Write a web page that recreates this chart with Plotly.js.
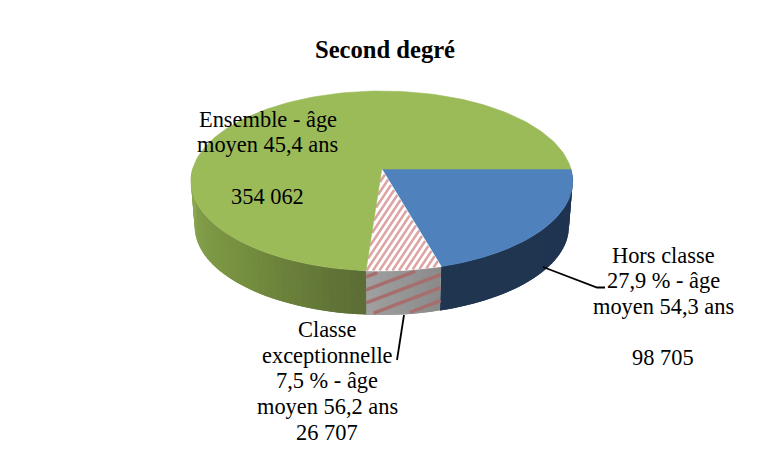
<!DOCTYPE html>
<html><head><meta charset="utf-8">
<script src="https://cdn.plot.ly/plotly-3.0.1.min.js"></script>
<style>html,body{margin:0;padding:0;background:#fff}#c{width:776px;height:450px}</style></head>
<body><div id="c"></div>
<script>
var categories = ["Hors classe", "Classe exceptionnelle", "Ensemble"];
var values = [98705, 26707, 354062];
var topColors = ["#4F81BD", "#FFFFFF", "#9BBB59"];
var wallStops = [
  [[0, "#1E3450"], [1, "#1F3550"]],
  [[0, "#8A8A8A"], [1, "#A0A0A0"]],
  [[0, "#5B6C35"], [0.45, "#76903F"], [1, "#8EAA52"]]
];
var titleText = "Second degré";
var labelLines = [
  ["Hors classe", "27,9 % - âge", "moyen 54,3 ans", "", "98 705"],
  ["Classe", "exceptionnelle", "7,5 % - âge", "moyen 56,2 ans", "26 707"],
  ["Ensemble - âge", "moyen 45,4 ans", "", "354 062"]
];

var P = {cx: 381.8, cy: 169, a: 189.2, b: 88.4, k: 0.1333, cyLow: 215, sLow: 0.98};
function proj(tDeg, low) {
  var t = tDeg * Math.PI / 180, u = Math.cos(t), v = Math.sin(t), d = 1 - P.k * v;
  var s = low ? P.sLow : 1, c = low ? P.cyLow : P.cy;
  return [P.cx + s * P.a * u / d, c + s * P.b * v / d];
}
function hex(h){return [1,3,5].map(function(i){return parseInt(h.substr(i,2),16);});}
function shade(stops, f) {
  for (var i = 1; i < stops.length; i++) if (f <= stops[i][0]) {
    var g = (f - stops[i-1][0]) / (stops[i][0] - stops[i-1][0]);
    var A = hex(stops[i-1][1]), B = hex(stops[i][1]);
    return "rgb(" + A.map(function(x,j){return Math.round(x + (B[j]-x)*g);}).join(",") + ")";
  }
  return stops[stops.length-1][1];
}
var total = values.reduce(function(a,b){return a+b;},0);
var bounds = [0];
values.forEach(function(v){bounds.push(bounds[bounds.length-1] + v/total*360);});

var traces = [];
function poly(xs, ys, color, width) {
  traces.push({x: xs, y: ys, mode: "lines", fill: "toself", fillcolor: color,
    line: {color: color, width: width || 0}, hoverinfo: "skip", showlegend: false, type: "scatter"});
}
function stroke(xs, ys, color, width) {
  traces.push({x: xs, y: ys, mode: "lines", line: {color: color, width: width}, hoverinfo: "skip", showlegend: false, type: "scatter"});
}
// side wall, front half only; each band overlaps the next to avoid seams
bounds.slice(0,3).forEach(function(b0, i) {
  var from = Math.max(b0, 0), to = Math.min(bounds[i+1], 180), n = Math.max(2, Math.ceil((to-from)/2));
  if (to <= from) return;
  for (var j = 0; j < n; j++) {
    var t0 = from + (to-from)*j/n, t1 = from + (to-from)*(j+1)/n;
    if (j < n-1) t1 += (to-from)/n;
    var xs = [], ys = [], m = 4, q, p;
    for (q = 0; q <= m; q++) { p = proj(t0 + (t1-t0)*q/m, false); xs.push(p[0]); ys.push(p[1]); }
    for (q = m; q >= 0; q--) { p = proj(t0 + (t1-t0)*q/m, true); xs.push(p[0]); ys.push(p[1]); }
    xs.push(xs[0]); ys.push(ys[0]);
    poly(xs, ys, shade(wallStops[i], (j+0.5)/n));
  }
});
// stripes on the hatched wall
(function(){
  var from = bounds[1], to = bounds[2], slope = 0.38, step = 13;
  var x0 = proj(to,false)[0];
  for (var q = -2; q <= 3; q++) {
    var xs = [], ys = [];
    for (var j = 0; j <= 60; j++) {
      var t = from + (to-from)*j/60, top = proj(t,false), low = proj(t,true);
      var x = (top[0] + low[0]) / 2;
      var y = 303 + q*step - (x - x0)*slope;
      if (y >= top[1] + 1.5 && y <= low[1] - 1.5) { xs.push(x); ys.push(y); }
    }
    if (xs.length > 1) stroke(xs, ys, "#A76E6E", 3.4);
  }
})();
function inside(x, y, xs, ys) {
  var c = false;
  for (var i = 0, j = xs.length-1; i < xs.length; j = i++) {
    if ((ys[i] > y) !== (ys[j] > y) && x < (xs[j]-xs[i])*(y-ys[i])/(ys[j]-ys[i]) + xs[i]) c = !c;
  }
  return c;
}
// top faces
values.forEach(function(v, i) {
  var xs = [P.cx], ys = [P.cy], n = Math.ceil((bounds[i+1]-bounds[i])/1.5);
  for (var j = 0; j <= n; j++) {
    var p = proj(bounds[i] + (bounds[i+1]-bounds[i])*j/n, false);
    xs.push(p[0]); ys.push(p[1]);
  }
  xs.push(P.cx); ys.push(P.cy);
  poly(xs, ys, topColors[i], 0.6);
  if (i === 1) {
    var period = 6.5, steep = 1.5;
    for (var s = 0; s < 40; s++) {
      var sx = [], sy = [];
      for (var y = 165; y <= 275; y += 0.5) {
        var x = 320 + s*period - (y - 272)/steep;
        if (inside(x, y, xs, ys)) { sx.push(x); sy.push(y); }
      }
      if (sx.length > 1) stroke([sx[0], sx[sx.length-1]], [sy[0], sy[sy.length-1]], "#DDA4A3", 2.5);
    }
  }
});
// leader lines
stroke([543, 597, 605], [267, 287.5, 287.5], "#000", 1.8);
stroke([404, 397], [315, 360], "#000", 1.8);

var font = {family: "Liberation Serif, serif", size: 22.4, color: "#000"};
var lineStep = 25.7, anchors = [[267.5, 126], [327, 336.5], [663, 262]];
anchors = [[663, 262], [327, 336.5], [267.5, 126]];
var annotations = [{text: "<b>" + titleText + "</b>", x: 384.5, y: 49, xref: "x", yref: "y", xanchor: "center", yanchor: "middle", showarrow: false,
  font: {family: "Liberation Serif, serif", size: 24.6, color: "#000"}}];
labelLines.forEach(function(lines, i) {
  lines.forEach(function(text, j) {
    if (!text) return;
    annotations.push({text: text, x: anchors[i][0], y: anchors[i][1] + j*lineStep - 7, xref: "x", yref: "y",
      xanchor: "center", yanchor: "middle", showarrow: false, font: font});
  });
});
var layout = {
  width: 776, height: 450, margin: {l:0,r:0,t:0,b:0}, paper_bgcolor: "#fff", plot_bgcolor: "#fff", showlegend: false,
  xaxis: {range: [0,776], visible: false, fixedrange: true},
  yaxis: {range: [450,0], visible: false, fixedrange: true},
  annotations: annotations
};
Plotly.newPlot("c", traces, layout, {displayModeBar: false, staticPlot: true});
</script></body></html>
